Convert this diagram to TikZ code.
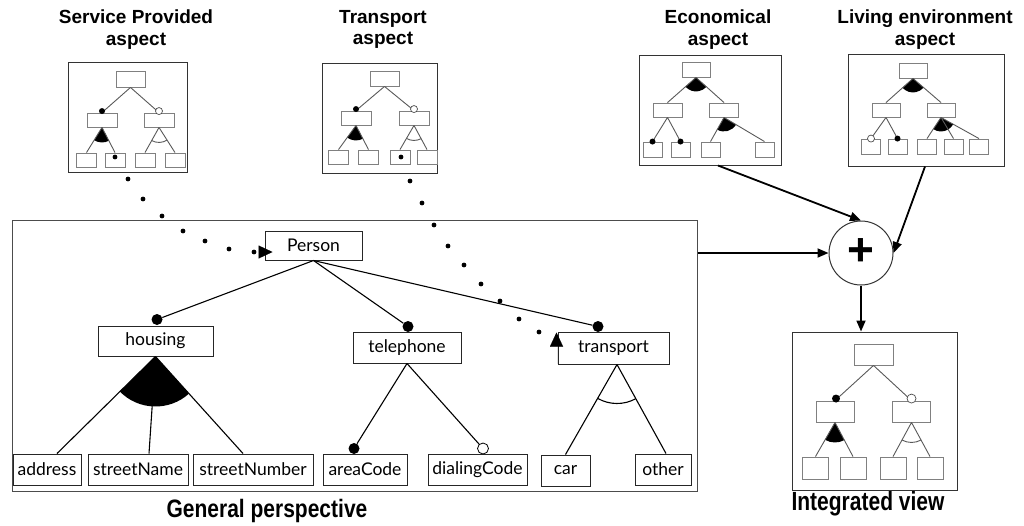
\documentclass[tikz,border=0pt]{standalone}
\usepackage{fontspec}
\usetikzlibrary{calc,arrows.meta}
\newfontfamily\tfont{Liberation Sans}
\newfontfamily\ffont{Lato}
\tikzset{
  feat/.style={draw=black!85, line width=1pt, rectangle, inner sep=0pt,
    font=\ffont\fontsize{17.5}{20}\selectfont, minimum height=30pt},
  mini/.style={draw=black!50, line width=0.9pt, rectangle, inner sep=0pt,
    minimum width=20pt, minimum height=14pt},
  frame/.style={draw=black!80, line width=1pt, rectangle, inner sep=0pt},
  link/.style={line width=1.1pt},
  minilink/.style={draw=black!65, line width=0.9pt},
  dotf/.style={circle, fill=black, inner sep=0pt, minimum size=11pt},
  doto/.style={circle, draw=black, fill=white, inner sep=0pt, minimum size=11pt, line width=0.8pt},
  mdotf/.style={circle, fill=black, inner sep=0pt, minimum size=6pt},
  mdoto/.style={circle, draw=black!70, fill=white, inner sep=0pt, minimum size=7pt, line width=0.7pt},
  mapdot/.style={circle, fill=black, inner sep=0pt, minimum size=4.8pt},
  title/.style={font=\tfont\bfseries\fontsize{19}{21.5}\selectfont, align=center, inner sep=0pt, anchor=north},
  bigtitle/.style={font=\tfont\bfseries\fontsize{21}{24}\selectfont, inner sep=0pt, anchor=base},
  flow/.style={line width=1.8pt, -{Triangle[length=11pt,width=9pt]}},
  tipup/.style={line width=0.01pt, -{Triangle[length=14pt,width=13pt]}}
}
\newcommand\fanfill[4]{\fill let \p1=($(#2)-(#1)$), \p2=($(#3)-(#1)$),
  \n1={atan2(\y1,\x1)}, \n2={atan2(\y2,\x2)} in
  (#1) -- ++(\n1:#4) arc[start angle=\n1, end angle=\n2, radius=#4] -- cycle;}
\newcommand\fanopen[5]{\draw[#5] let \p1=($(#2)-(#1)$), \p2=($(#3)-(#1)$),
  \n1={atan2(\y1,\x1)}, \n2={atan2(\y2,\x2)} in
  ($(#1)+(\n1:#4)$) arc[start angle=\n1, end angle=\n2, radius=#4];}
\begin{document}
\begin{tikzpicture}[x=1pt,y=-1pt]
\useasboundingbox (0,0) rectangle (1024,525);

% ---------------- titles
\node[title] (t1) at (136,10) {Service Provided\\aspect};
\node[title] (t2) at (383,10) {Transport\\aspect};
\node[title] (t3) at (718,10) {Economical\\aspect};
\node[title] (t4) at (925,10) {Living environment\\aspect};
\node[bigtitle] (t5) at (267,517) {\scalebox{1}[1.2]{General perspective}};
\node[bigtitle] (t6) at (868,510) {\scalebox{1}[1.25]{Integrated view}};

% ---------------- Service Provided aspect
\node[frame, minimum width=119pt, minimum height=110pt] (sbox) at (127.5,117) {};
\node[mini, minimum width=29pt, minimum height=16pt] (sT) at (130.5,79) {};
\node[mini, minimum width=30pt] (sL) at (102,120) {};
\node[mini, minimum width=30pt] (sR) at (159,120) {};
\node[mini] (sA) at (86.5,160) {};
\node[mini] (sB) at (115,160) {};
\node[mini] (sC) at (145,160) {};
\node[mini] (sD) at (175,160) {};
\draw[minilink] (sT.south) -- (sL.north);
\draw[minilink] (sT.south) -- (sR.north);
\fanfill{sL.south}{sA.north}{sB.north}{15pt}
\draw[minilink] (sL.south) -- (sA.north) (sL.south) -- (sB.north);
\fanopen{sR.south}{sC.north}{sD.north}{15pt}{minilink}
\draw[minilink] (sR.south) -- (sC.north) (sR.south) -- (sD.north);
\node[mdotf] (sdL) at ($(sL.north)+(0,-1.5)$) {};
\node[mdoto] (sdR) at ($(sR.north)+(0,-1.5)$) {};

% ---------------- Transport aspect
\node[frame, minimum width=115pt, minimum height=110pt] (tbox) at (379.5,118) {};
\node[mini, minimum width=29pt, minimum height=15pt] (tT) at (384.5,78.5) {};
\node[mini, minimum width=30pt] (tL) at (356,118) {};
\node[mini, minimum width=30pt] (tR) at (414,118) {};
\node[mini] (tA) at (338.5,157) {};
\node[mini] (tB) at (368.5,157) {};
\node[mini] (tC) at (400,157) {};
\node[mini] (tD) at (427,157) {};
\draw[minilink] (tT.south) -- (tL.north);
\draw[minilink] (tT.south) -- (tR.north);
\fanfill{tL.south}{tA.north}{tB.north}{15pt}
\draw[minilink] (tL.south) -- (tA.north) (tL.south) -- (tB.north);
\fanopen{tR.south}{tC.north}{tD.north}{15pt}{minilink}
\draw[minilink] (tR.south) -- (tC.north) (tR.south) -- (tD.north);
\node[mdotf] (tdL) at ($(tL.north)+(0,-1.5)$) {};
\node[mdoto] (tdR) at ($(tR.north)+(0,-1.5)$) {};

% ---------------- Economical aspect
\node[frame, minimum width=142pt, minimum height=110pt] (ebox) at (710,110) {};
\node[mini, minimum width=28pt, minimum height=15pt] (eT) at (696,69.5) {};
\node[mini, minimum width=29pt] (eL) at (667.5,110) {};
\node[mini, minimum width=29pt] (eR) at (724,110) {};
\node[mini, minimum width=19pt, minimum height=15pt] (eA) at (652.5,149.5) {};
\node[mini, minimum width=19pt, minimum height=15pt] (eB) at (680.5,149.5) {};
\node[mini, minimum width=19pt, minimum height=15pt] (eC) at (710.5,149.5) {};
\node[mini, minimum width=19pt, minimum height=15pt] (eD) at (764.5,149.5) {};
\fanfill{eT.south}{eL.north}{eR.north}{14pt}
\draw[minilink] (eT.south) -- (eL.north) (eT.south) -- (eR.north);
\draw[minilink] (eL.south) -- (eA.north) (eL.south) -- (eB.north);
\fanfill{eR.south}{eC.north}{eD.north}{14pt}
\draw[minilink] (eR.south) -- (eC.north) (eR.south) -- (eD.north);
\node[mdotf] (edA) at (eA.north) {};
\node[mdotf] (edB) at (eB.north) {};

% ---------------- Living environment aspect
\node[frame, minimum width=156pt, minimum height=112pt] (lbox) at (926,110) {};
\node[mini, minimum width=28pt, minimum height=15pt] (lT) at (913,70.5) {};
\node[mini, minimum width=28pt] (lL) at (886,110) {};
\node[mini, minimum width=28pt] (lR) at (941,110) {};
\node[mini, minimum width=19pt, minimum height=15pt] (lA) at (871,146.5) {};
\node[mini, minimum width=19pt, minimum height=15pt] (lB) at (897.5,146.5) {};
\node[mini, minimum width=19pt, minimum height=15pt] (lC) at (927,146.5) {};
\node[mini, minimum width=19pt, minimum height=15pt] (lD) at (953.5,146.5) {};
\node[mini, minimum width=19pt, minimum height=15pt] (lE) at (979,146.5) {};
\fanfill{lT.south}{lL.north}{lR.north}{14pt}
\draw[minilink] (lT.south) -- (lL.north) (lT.south) -- (lR.north);
\draw[minilink] (lL.south) -- (lA.north) (lL.south) -- (lB.north);
\fanfill{lR.south}{lC.north}{lE.north}{14pt}
\draw[minilink] (lR.south) -- (lC.north) (lR.south) -- (lD.north) (lR.south) -- (lE.north);
\node[mdoto] (ldA) at (lA.north) {};
\node[mdotf] (ldB) at (lB.north) {};

% ---------------- General perspective
\node[frame, draw=black!70, minimum width=685pt, minimum height=271pt] (gp) at (354.5,355.5) {};
\node[feat, minimum width=97pt, minimum height=29pt] (person) at (313.5,245.5) {Person};
\node[feat, minimum width=115pt] (housing) at (155.5,341) {housing};
\node[feat, minimum width=108pt, minimum height=31pt] (telephone) at (407,347.5) {telephone};
\node[feat, minimum width=111pt, minimum height=32pt] (transport) at (613.5,348) {transport};
\node[feat, minimum width=68pt, minimum height=31pt] (address) at (47,469.5) {address};
\node[feat, minimum width=100pt, minimum height=31pt] (streetName) at (138,469.5) {streetName};
\node[feat, minimum width=120pt, minimum height=31pt] (streetNumber) at (253,469.5) {streetNumber};
\node[feat, minimum width=84pt, minimum height=31pt] (areaCode) at (365,469.5) {areaCode};
\node[feat, minimum width=99pt, minimum height=31pt] (dialingCode) at (477.5,469.5) {dialingCode};
\node[feat, minimum width=49pt, minimum height=31pt] (car) at (565.5,470.5) {car};
\node[feat, minimum width=56pt, minimum height=31pt] (other) at (663,469.5) {other};

\node[dotf] (dh) at (157,319.5) {};
\node[dotf] (dt) at (408,326.5) {};
\node[dotf] (dtr) at (598,326.5) {};
\node[dotf] (dac) at (354,448.5) {};
\node[doto] (ddc) at (483,448.5) {};

\draw[link] (person.south) -- (dh);
\draw[link] (person.south) -- (dt);
\draw[link] (person.south) -- (dtr);
\draw[link] (telephone.south) -- (dac);
\draw[link] (telephone.south) -- (ddc);

\coordinate (ha) at ($(address.north)+(10,0)$);
\coordinate (hb) at ($(streetName.north)+(11,0)$);
\coordinate (hc) at ($(streetNumber.north)+(-10,0)$);
\fanfill{housing.south}{ha}{hc}{50pt}
\draw[link] (housing.south) -- (ha) (housing.south) -- (hb) (housing.south) -- (hc);

\coordinate (tra) at ($(transport.south)+(3.5,0)$);
\coordinate (oth) at ($(other.north)+(3,0)$);
\fanopen{tra}{car.north}{oth}{39pt}{line width=1.1pt}
\draw[link] (tra) -- (car.north) (tra) -- (oth);

% ---------------- dotted mappings (aspect leaf -> general feature)
\node[mapdot] (m0) at ($(sB.center)+(0,-3)$) {};
\foreach \q/\pt in {1/{(128,179)}, 2/{(143,199)}, 3/{(162,216)}, 4/{(183,231)},
                    5/{(205,241)}, 6/{(229,249)}, 7/{(254,252)}}
  \node[mapdot] (m\q) at \pt {};
\draw[tipup] (259,252) -- ($(person.west)+(8,6.5)$);

\node[mapdot] (n0) at ($(tC.center)+(1,0)$) {};
\foreach \q/\pt in {1/{(410,181)}, 2/{(422,203)}, 3/{(434,225)}, 4/{(448,246)},
                    5/{(464,265)}, 6/{(481,284)}, 7/{(500,301)}, 8/{(519,319)}, 9/{(539,332)}}
  \node[mapdot] (n\q) at \pt {};
\draw[tipup] ($(transport.south west)+(-1,-1)$) -- ($(transport.north west)+(-1,1)$);

% ---------------- Integrated view
\node[frame, minimum width=165pt, minimum height=158pt] (iv) at (874.5,411) {};
\node[mini, minimum width=39pt, minimum height=21pt] (iT) at (873.5,354.5) {};
\node[mini, minimum width=38pt, minimum height=21pt] (iL) at (835,411.5) {};
\node[mini, minimum width=38pt, minimum height=21pt] (iR) at (911.5,411.5) {};
\node[mini, minimum width=26pt, minimum height=22pt] (iA) at (815.5,468) {};
\node[mini, minimum width=26pt, minimum height=22pt] (iB) at (853,468) {};
\node[mini, minimum width=26pt, minimum height=22pt] (iC) at (893,468) {};
\node[mini, minimum width=26pt, minimum height=22pt] (iD) at (930,468) {};
\draw[minilink] (iT.south) -- (iL.north);
\draw[minilink] (iT.south) -- (iR.north);
\fanfill{iL.south}{iA.north}{iB.north}{20pt}
\draw[minilink] (iL.south) -- (iA.north) (iL.south) -- (iB.north);
\fanopen{iR.south}{iC.north}{iD.north}{20pt}{minilink}
\draw[minilink] (iR.south) -- (iC.north) (iR.south) -- (iD.north);
\node[mdotf, minimum size=8pt] (idL) at ($(iL.north)+(1,-2)$) {};
\node[mdoto, minimum size=9pt] (idR) at ($(iR.north)+(0,-2)$) {};

% ---------------- integration
\node[circle, draw=black!80, line width=1pt, minimum size=64pt, inner sep=0pt,
  font=\tfont\bfseries\fontsize{46}{46}\selectfont] (plus) at (861,253) {\raisebox{1pt}{+}};
\coordinate (gpout) at (gp.east |- plus);
\draw[flow] (gpout) -- (plus.west);
\draw[flow] ($(ebox.south)+(8,0)$) -- (plus.north);
\draw[flow] ($(lbox.south)+(-1,0)$) -- (plus.east);
\draw[flow] (plus.south) -- (plus.south |- iv.north);
\end{tikzpicture}
\end{document}
